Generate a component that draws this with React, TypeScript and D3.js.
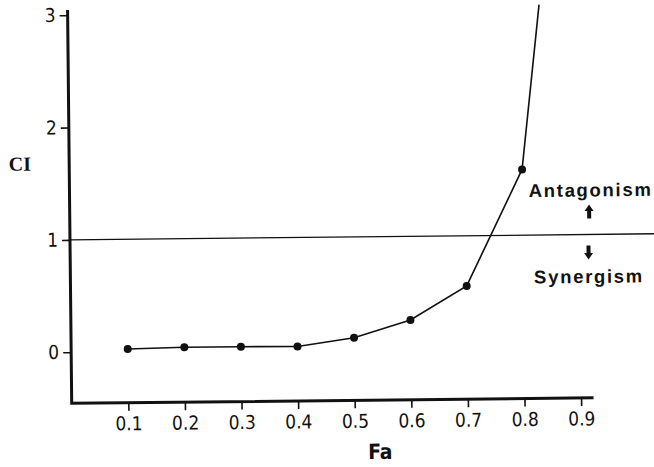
import { axisBottom, axisLeft, format, line, scaleLinear, select } from 'd3';
import { useEffect, useRef } from 'react';

// Combination index (CI) against fraction affected (Fa)
const faValues = [0.1, 0.2, 0.3, 0.4, 0.5, 0.6, 0.7, 0.8];
const ciValues = [0.023, 0.033, 0.033, 0.03, 0.103, 0.255, 0.553, 1.585];
// the curve runs on off the top of the plot past the last point
const tailFa = [0.833];
const tailCi = [3.05];

const xTicks = [0.1, 0.2, 0.3, 0.4, 0.5, 0.6, 0.7, 0.8, 0.9];
const yTicks = [0, 1, 2, 3];
const xDomain = [0, 0.922];
const yDomain = [-0.455, 3.046];
const refCi = 1;

const ink = '#111';
const tickFont =
  "'DejaVu Sans Condensed', 'Liberation Sans Narrow', 'DejaVu Sans', sans-serif";
const labelFont = "'Liberation Sans', Arial, sans-serif";

const W = 654;
const H = 467;

const App = () => {
  const svgRef = useRef(null);

  useEffect(() => {
    const svg = select(svgRef.current);
    svg.selectAll('*').remove();

    // the scanned figure sits a little crooked on the page
    const g = svg.append('g').attr('transform', 'rotate(-0.6, 330, 230)');

    const x = scaleLinear().domain([0, 0.9]).range([69.9, 579.3]);
    const y = scaleLinear().domain([0, 3]).range([349.5, 12.5]);

    const x0 = x(xDomain[0]);
    const yBase = y(yDomain[0]);

    // reference line at CI = 1
    g.append('line')
      .attr('x1', x0)
      .attr('x2', W + 40)
      .attr('y1', y(refCi))
      .attr('y2', y(refCi))
      .attr('stroke', ink)
      .attr('stroke-width', 1.3);

    // y axis
    const yAxis = g
      .append('g')
      .attr('transform', `translate(${x0},0)`)
      .call(axisLeft(y).tickValues(yTicks).tickSize(8).tickPadding(4).tickFormat(format('d')));
    yAxis.select('.domain').remove();
    yAxis.selectAll('line').attr('stroke', ink).attr('stroke-width', 1.6);
    yAxis
      .selectAll('text')
      .attr('fill', ink)
      .style('font-family', tickFont)
      .style('font-size', '19px');

    // x axis
    const xAxis = g
      .append('g')
      .attr('transform', `translate(0,${yBase})`)
      .call(axisBottom(x).tickValues(xTicks).tickSize(8).tickPadding(6).tickFormat(format('.1f')));
    xAxis.select('.domain').remove();
    xAxis.selectAll('line').attr('stroke', ink).attr('stroke-width', 1.6);
    xAxis
      .selectAll('text')
      .attr('fill', ink)
      .style('font-family', tickFont)
      .style('font-size', '19px');

    // axis lines
    g.append('path')
      .attr('d', `M${x0},${y(yDomain[1])}V${yBase}H${x(xDomain[1])}`)
      .attr('fill', 'none')
      .attr('stroke', ink)
      .attr('stroke-width', 3);

    // curve
    const pts = faValues.map((fa, i) => [fa, ciValues[i]]);
    const tail = tailFa.map((fa, i) => [fa, tailCi[i]]);
    const curve = line()
      .x((d) => x(d[0]))
      .y((d) => y(d[1]));
    g.append('path')
      .attr('d', curve(pts.concat(tail)))
      .attr('fill', 'none')
      .attr('stroke', ink)
      .attr('stroke-width', 1.6);

    g.append('g')
      .selectAll('circle')
      .data(pts)
      .enter()
      .append('circle')
      .attr('cx', (d) => x(d[0]))
      .attr('cy', (d) => y(d[1]))
      .attr('r', 4)
      .attr('fill', ink);

    // axis titles
    g.append('text')
      .attr('x', 20.5)
      .attr('y', 167.5)
      .attr('text-anchor', 'middle')
      .attr('fill', ink)
      .style('font-family', "'Liberation Serif', 'Times New Roman', serif")
      .style('font-weight', 'bold')
      .style('font-size', '20px')
      .text('CI');

    g.append('text')
      .attr('x', 378)
      .attr('y', 459.5)
      .attr('text-anchor', 'middle')
      .attr('fill', ink)
      .style('font-family', tickFont)
      .style('font-weight', 'bold')
      .style('font-size', '21px')
      .text('Fa');

    // annotations either side of CI = 1
    const notes = [
      { text: 'Antagonism', cx: 591, base: y(refCi) - 38 },
      { text: 'Synergism', cx: 588.5, base: y(refCi) + 48.5 },
    ];
    g.selectAll('.note')
      .data(notes)
      .enter()
      .append('text')
      .attr('class', 'note')
      .attr('x', (d) => d.cx)
      .attr('y', (d) => d.base)
      .attr('text-anchor', 'middle')
      .attr('fill', ink)
      .style('font-family', labelFont)
      .style('font-weight', 'bold')
      .style('font-size', '18.5px')
      .style('letter-spacing', '1.7px')
      .text((d) => d.text);

    // little filled arrows: up above the line, down below it
    const arrow = (cx, cy, dir) => {
      const h = 7 * dir;
      const n = 6.5 * dir;
      return `M${cx},${cy - h}L${cx + 4.5},${cy - h + n}L${cx + 2},${cy - h + n}L${cx + 2},${cy + h}L${cx - 2},${cy + h}L${cx - 2},${cy - h + n}L${cx - 4.5},${cy - h + n}Z`;
    };
    g.append('path').attr('d', arrow(589.3, y(refCi) - 23, 1)).attr('fill', ink);
    g.append('path').attr('d', arrow(588.3, y(refCi) + 18, -1)).attr('fill', ink);
  }, []);

  return (
    <svg
      ref={svgRef}
      width={W}
      height={H}
      style={{ position: 'absolute', left: 0, top: 0, background: '#fff' }}
    />
  );
};

export default App;
